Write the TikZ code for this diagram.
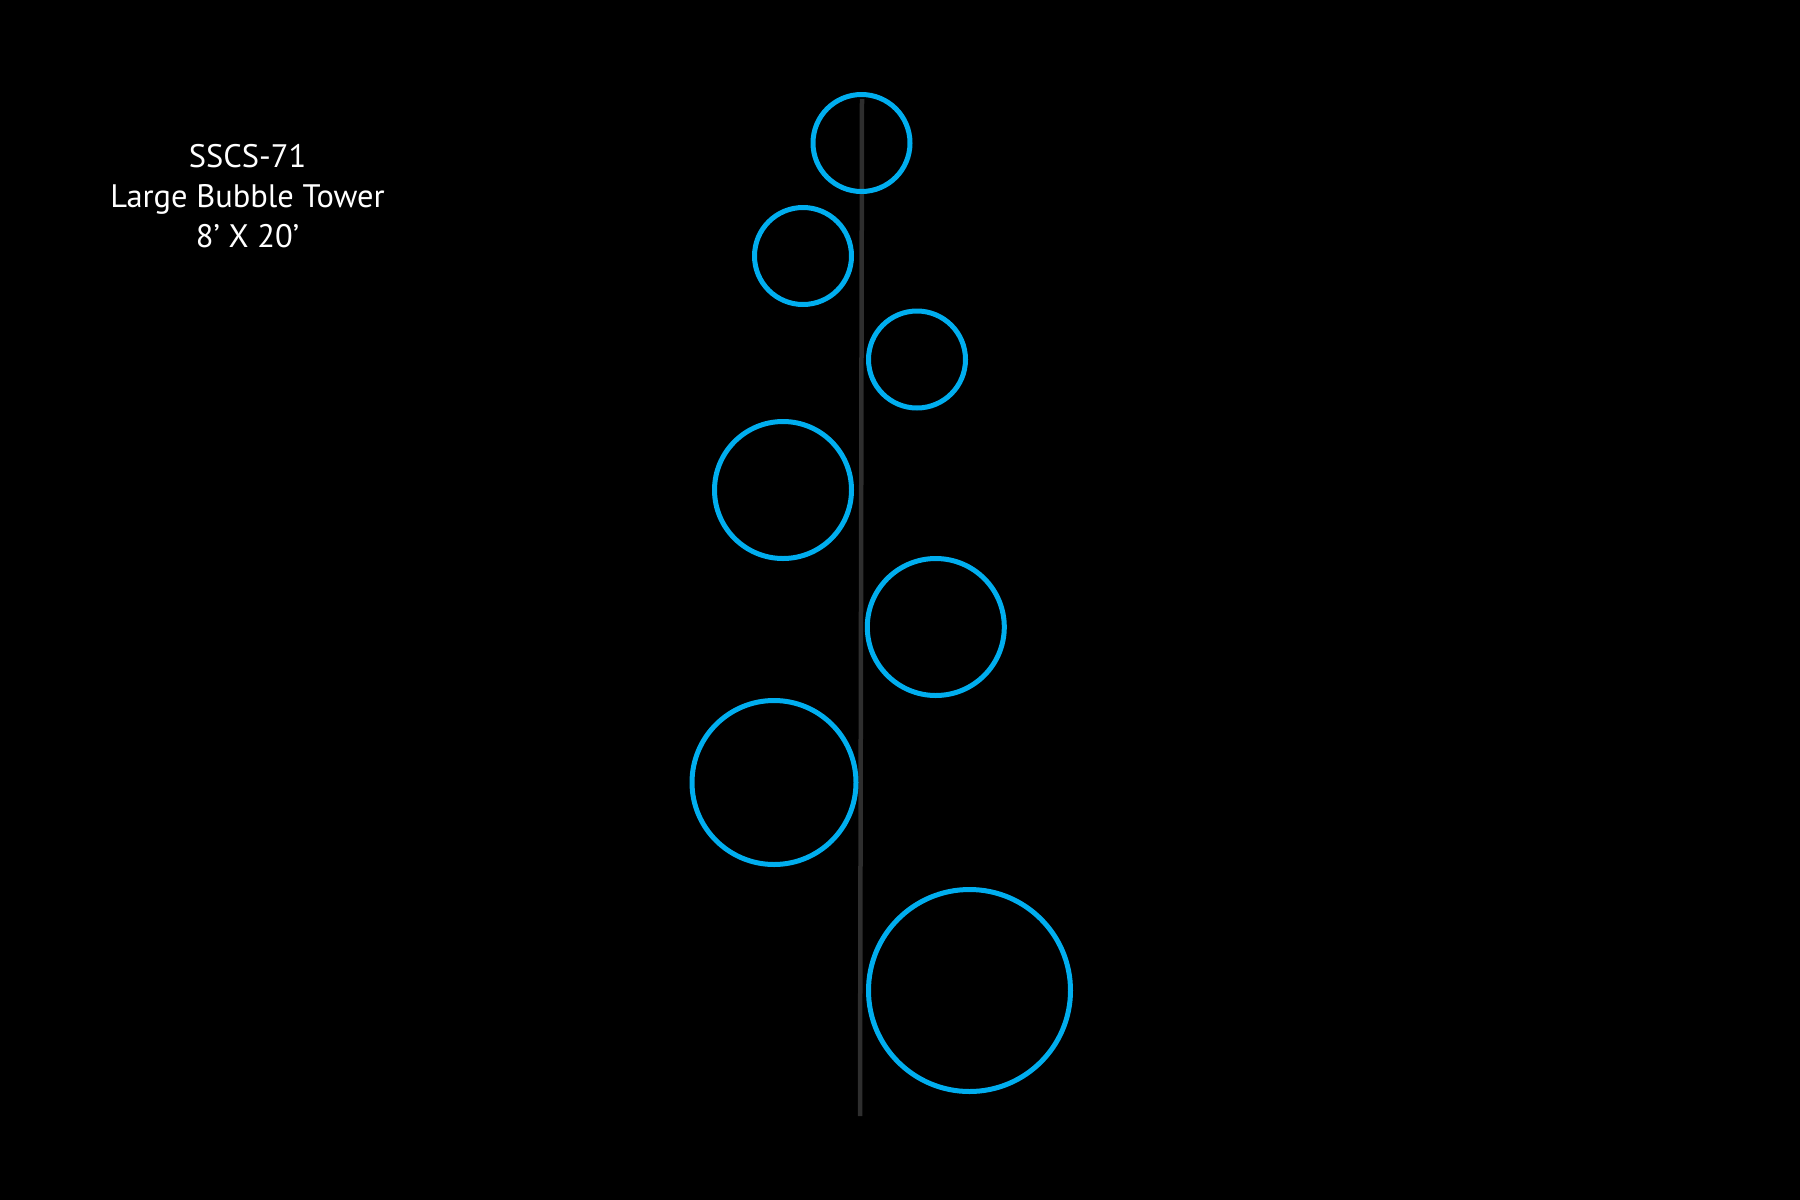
\documentclass[tikz,border=0pt]{standalone}
\usepackage{fontspec}
\setmainfont{PT Sans}
\definecolor{bubble}{HTML}{00AEEF}
\definecolor{pole}{HTML}{2E2E2E}
\begin{document}
\begin{tikzpicture}[x=1pt,y=-1pt,
  bubble/.style={draw=bubble,line width=5pt},
  label/.style={text=white,font=\fontsize{32.5}{38}\selectfont,anchor=base,inner sep=0pt}]
\fill[black] (0,0) rectangle (1800,1200);
\useasboundingbox (0,0) rectangle (1800,1200);
\coordinate (top) at (862,99);
\coordinate (bot) at (860,1116);
\draw[pole,line width=4.5pt] (top) -- (bot);
\draw[bubble] (861.5,143) circle (48.5);
\draw[bubble] (803,256) circle (48.5);
\draw[bubble] (917,359.5) circle (48.5);
\draw[bubble] (783,490) circle (68.5);
\draw[bubble] (935.8,627) circle (68.5);
\draw[bubble] (774,782.5) circle (82);
\draw[bubble] (969.5,990.5) circle (101);
\node[label] (t1) at (247.5,167) {SSCS-71};
\node[label] (t2) at (247.5,207) {Large Bubble Tower};
\node[label] (t3) at (247.5,247) {8’ X 20’};
\end{tikzpicture}
\end{document}
